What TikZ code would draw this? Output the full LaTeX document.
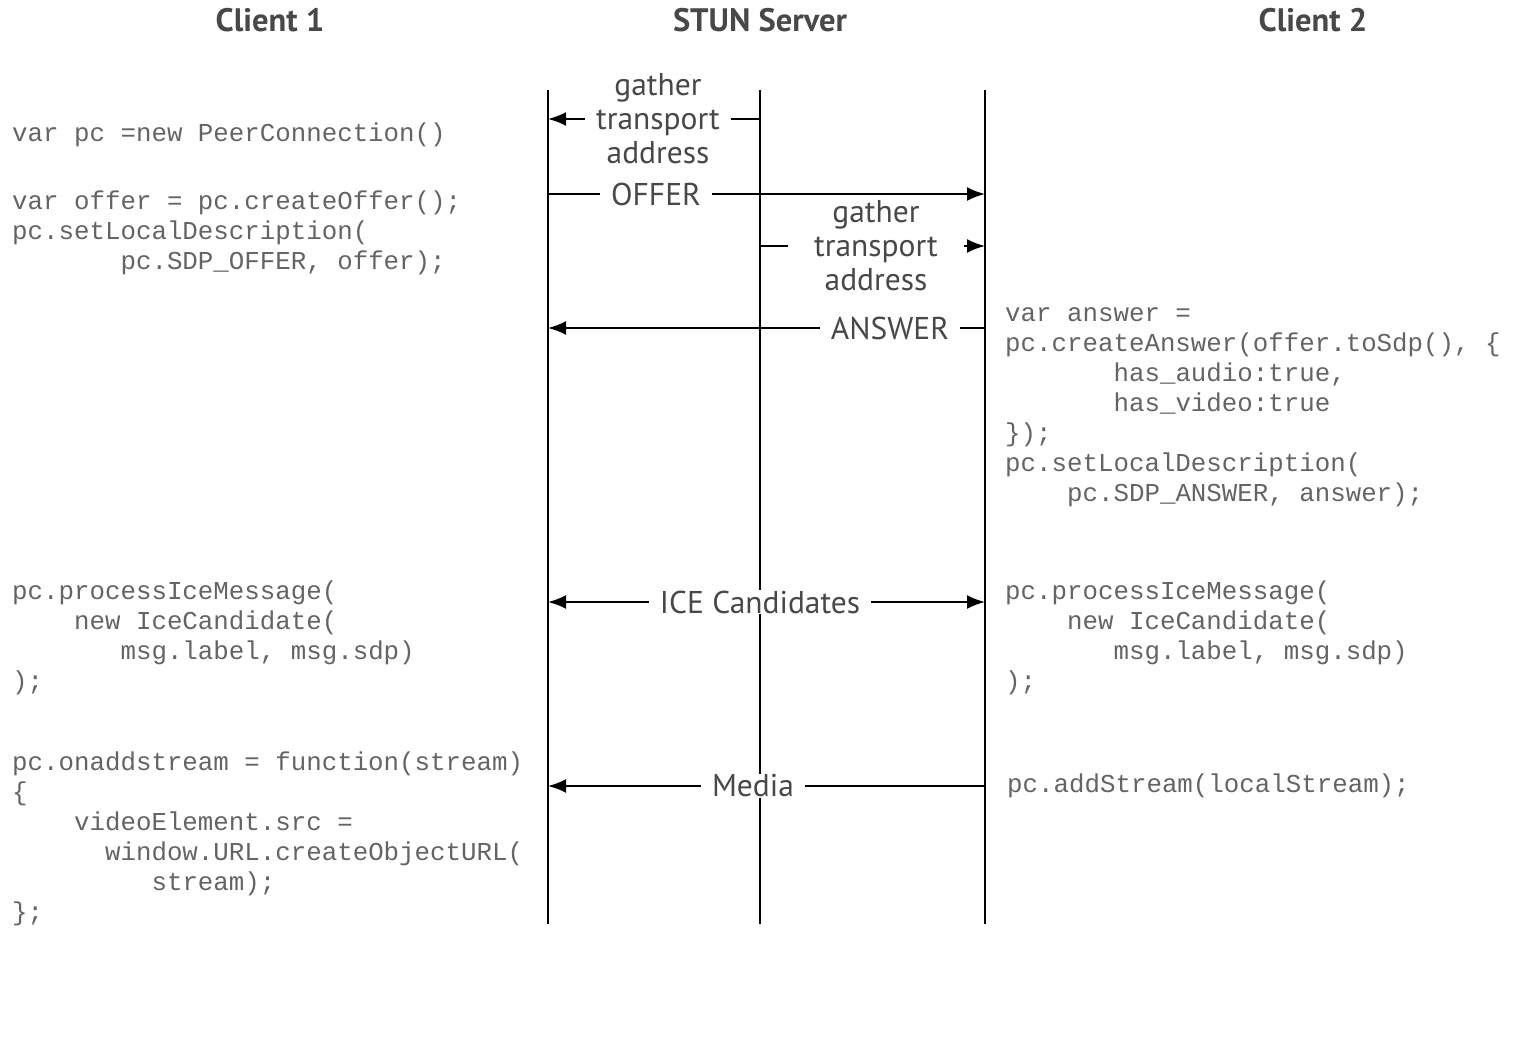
\documentclass[tikz,border=0pt]{standalone}
\usepackage{fontspec}
\setmainfont{PT Sans}
\setmonofont{Liberation Mono}
\usetikzlibrary{arrows.meta}
\definecolor{txtgray}{RGB}{72,72,72}
\definecolor{codegray}{RGB}{100,100,100}

\tikzset{
  headtext/.style={font=\bfseries\fontsize{32.5}{36}\selectfont, text=txtgray},
  msglabel/.style={font=\fontsize{31.5}{34}\selectfont, text=txtgray, fill=white,
    inner xsep=11pt, inner ysep=1pt, align=center},
  codeblock/.style={font=\ttfamily\fontsize{25.8}{30}\selectfont, text=codegray,
    anchor=north west, inner sep=0pt, align=left},
  lifeline/.style={line width=2pt},
  msg/.style={line width=2pt, -{Latex[length=18pt,width=14pt]}},
}

\begin{document}
\begin{tikzpicture}[x=1pt,y=-1pt]
    \useasboundingbox (0,0) rectangle (1518,1046);
    % headings
    \node[headtext] (client1) at (270,20) {Client 1};
    \node[headtext] (stun) at (760,20) {STUN Server};
    \node[headtext] (client2) at (1313,20) {Client 2};
    % lifelines
    \coordinate (l1top) at (548,90);
    \coordinate (l1bot) at (548,924);
    \coordinate (srvtop) at (760,90);
    \coordinate (srvbot) at (760,924);
    \coordinate (l2top) at (985,90);
    \coordinate (l2bot) at (985,924);
    \draw[lifeline] (l1top) -- (l1bot);
    \draw[lifeline] (srvtop) -- (srvbot);
    \draw[lifeline] (l2top) -- (l2bot);
    % messages
    \node[msglabel] (gather1) at (658,119) {gather\\transport\\address};
    \draw[msg] (gather1) -- (l1top |- gather1);
    \draw[lifeline] (gather1) -- (srvtop |- gather1);
    \node[msglabel, inner xsep=26pt] (gather2) at (876,246) {gather\\transport\\address};
    \draw[lifeline] (gather2) -- (srvtop |- gather2);
    \draw[msg] (gather2) -- (l2top |- gather2);
    \node[msglabel] (offer) at (656,194) {OFFER};
    \draw[lifeline] (offer) -- (l1top |- offer);
    \draw[msg] (offer) -- (l2top |- offer);
    \node[msglabel] (answer) at (890,328) {ANSWER};
    \draw[lifeline] (answer) -- (l2top |- answer);
    \draw[msg] (answer) -- (l1top |- answer);
    \node[msglabel] (ice) at (760,602) {ICE Candidates};
    \draw[msg] (ice) -- (l1top |- ice);
    \draw[msg] (ice) -- (l2top |- ice);
    \node[msglabel] (media) at (753,786) {Media};
    \draw[lifeline] (media) -- (l2top |- media);
    \draw[msg] (media) -- (l1top |- media);
    % client 1 code
    \node[codeblock] (newpc) at (12,120) {\strut var pc =new PeerConnection()};
    \node[codeblock] (mkoffer) at (12,188) {\strut var offer = pc.createOffer();\\
      pc.setLocalDescription(\\
      ~~~~~~~pc.SDP\_OFFER, offer);};
    \node[codeblock] (ice1) at (12,578) {\strut pc.processIceMessage(\\
      ~~~~new IceCandidate(\\
      ~~~~~~~msg.label, msg.sdp)\\
      );};
    \node[codeblock] (onstream) at (12,749) {\strut pc.onaddstream = function(stream)\\
      \{\\
      ~~~~videoElement.src =\\
      ~~~~~~window.URL.createObjectURL(\\
      ~~~~~~~~~stream);\\
      \};};
    % client 2 code
    \node[codeblock] (mkanswer) at (1005,300) {\strut var answer =\\
      pc.createAnswer(offer.toSdp(), \{\\
      ~~~~~~~has\_audio:true,\\
      ~~~~~~~has\_video:true\\
      \});\\
      pc.setLocalDescription(\\
      ~~~~pc.SDP\_ANSWER, answer);};
    \node[codeblock] (ice2) at (1005,578) {\strut pc.processIceMessage(\\
      ~~~~new IceCandidate(\\
      ~~~~~~~msg.label, msg.sdp)\\
      );};
    \node[codeblock] (addstream) at (1007,771) {\strut pc.addStream(localStream);};
\end{tikzpicture}
\end{document}
